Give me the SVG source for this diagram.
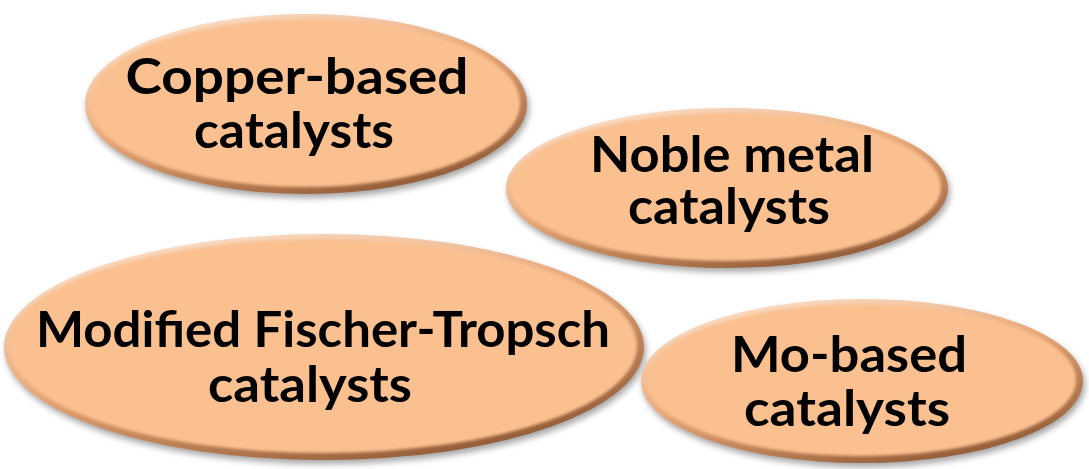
<svg xmlns="http://www.w3.org/2000/svg" width="1089" height="469" viewBox="0 0 1089 469">
<defs>
<style>
.sh{fill:#000;opacity:.35;filter:url(#blur)}
.rim{fill:url(#rimg)}
.body{fill:#FAC090;filter:url(#soft)}
.hl{fill:none;stroke:#fff;stroke-opacity:.5;stroke-width:3;filter:url(#soft)}
.t{font-family:"Century Gothic","Lato","Liberation Sans",sans-serif;font-weight:700;font-size:50px;fill:#000;text-anchor:middle}
</style>
<filter id="blur" x="-10%" y="-10%" width="120%" height="130%"><feGaussianBlur stdDeviation="3"/></filter>
<filter id="soft" x="-5%" y="-5%" width="110%" height="110%"><feGaussianBlur stdDeviation="1.5"/></filter>
<linearGradient id="rimg" x1="0.2" y1="0" x2="0.8" y2="1">
<stop offset="0" stop-color="#FCE2CC"/>
<stop offset="0.45" stop-color="#E9A878"/>
<stop offset="1" stop-color="#8A5430"/>
</linearGradient>
</defs>
<g id="connectors"/>
<g id="node-copper">
<ellipse class="sh" cx="308" cy="108" rx="221" ry="90"/>
<ellipse class="rim" cx="306" cy="104" rx="221" ry="90"/>
<ellipse class="body" cx="305" cy="103" rx="215" ry="84"/>
<text class="t" x="297" y="94" textLength="343" lengthAdjust="spacingAndGlyphs">Copper-based</text>
<text class="t" x="294" y="148" textLength="200" lengthAdjust="spacingAndGlyphs">catalysts</text>
</g>
<g id="node-noble">
<ellipse class="sh" cx="729" cy="192" rx="221" ry="80"/>
<ellipse class="rim" cx="727" cy="188" rx="221" ry="80"/>
<ellipse class="body" cx="726" cy="187" rx="215" ry="74"/>
<text class="t" x="732" y="172" textLength="284" lengthAdjust="spacingAndGlyphs">Noble metal</text>
<text class="t" x="729" y="224" textLength="202" lengthAdjust="spacingAndGlyphs">catalysts</text>
</g>
<g id="node-modified">
<ellipse class="sh" cx="326" cy="351" rx="320" ry="113"/>
<ellipse class="rim" cx="324" cy="347" rx="320" ry="113"/>
<ellipse class="body" cx="323" cy="346" rx="314" ry="107"/>
<text class="t" x="323" y="347" textLength="574" lengthAdjust="spacingAndGlyphs">Modified Fischer-Tropsch</text>
<text class="t" x="310" y="402" textLength="204" lengthAdjust="spacingAndGlyphs">catalysts</text>
</g>
<g id="node-mo">
<ellipse class="sh" cx="864" cy="385" rx="221" ry="82"/>
<ellipse class="rim" cx="862" cy="381" rx="221" ry="82"/>
<ellipse class="body" cx="861" cy="380" rx="215" ry="76"/>
<text class="t" x="849" y="372" textLength="236" lengthAdjust="spacingAndGlyphs">Mo-based</text>
<text class="t" x="847" y="426" textLength="206" lengthAdjust="spacingAndGlyphs">catalysts</text>
</g>
</svg>
